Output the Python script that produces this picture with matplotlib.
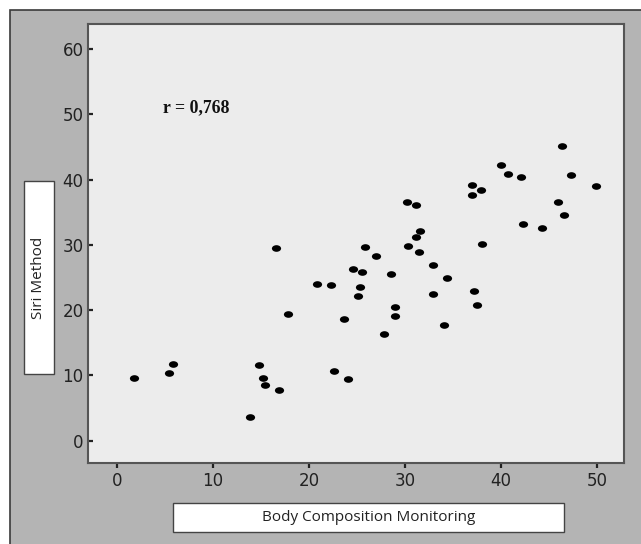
import matplotlib
matplotlib.use("Agg")
import matplotlib.pyplot as plt
from matplotlib.patches import Rectangle
from matplotlib.path import Path
from matplotlib.transforms import Affine2D

# Body Composition Monitoring (x) vs Siri Method (y)
bcm = [1.80, 5.47, 5.83, 14.84, 15.26, 15.43, 13.90, 30.18, 31.11, 31.53,
       31.11, 30.28, 31.43, 16.55, 25.87, 27.01, 24.56, 25.49, 28.54, 32.91,
       34.37, 20.84, 22.27, 25.35, 25.14, 32.95, 28.93, 17.79, 23.62, 28.96,
       27.81, 34.06, 22.64, 24.10, 16.92, 46.31, 40.02, 40.75, 42.10, 47.31,
       49.88, 36.94, 37.88, 36.94, 45.95, 46.51, 42.31, 44.26, 37.98, 37.15,
       37.46]
siri = [9.62, 10.29, 11.76, 11.61, 9.62, 8.55, 3.64, 36.63, 36.17, 32.08,
        31.16, 29.79, 28.91, 29.52, 29.68, 28.30, 26.22, 25.76, 25.60, 26.98,
        24.99, 24.07, 23.77, 23.61, 22.13, 22.43, 20.40, 19.42, 18.65, 19.07,
        16.36, 17.73, 10.69, 9.42, 7.69, 45.21, 42.19, 40.86, 40.40, 40.70,
        39.02, 39.17, 38.41, 37.70, 36.63, 34.64, 33.15, 32.54, 30.14, 22.89,
        20.75]

x_ticks = [0, 10, 20, 30, 40, 50]
y_ticks = [0, 10, 20, 30, 40, 50, 60]
r_text = "r = 0,768"

W, H = 641, 544
fig = plt.figure(figsize=(W / 100, H / 100), dpi=100)
fig.patch.set_facecolor("white")

# grey frame around everything (behind the axes)
fig.patches.append(Rectangle((10 / W, -0.05), 1.1, 1 - 10 / H + 0.05,
                             transform=fig.transFigure, facecolor="#b4b4b4",
                             edgecolor="#3a3a3a", linewidth=1.2, zorder=-5))

ax = fig.add_axes([88.3 / W, 1 - 462.7 / H, (624 - 88.3) / W, (462.7 - 24) / H])
ax.set_facecolor("#ececec")
for s in ax.spines.values():
    s.set_color("#555555")
    s.set_linewidth(1.5)

# slightly flattened dots
ell = Path.unit_circle().transformed(Affine2D().scale(1.0, 0.72))
ax.scatter(bcm, siri, marker=ell, s=44, color="black", linewidths=0, zorder=3)

ax.set_xlim(-2.96, 52.8)
ax.set_ylim(-3.40, 63.85)
ax.set_xticks(x_ticks)
ax.set_yticks(y_ticks)
ax.tick_params(axis="x", direction="out", length=3.6, width=1.6, pad=3,
               labelsize=12, colors="#222222")
ax.tick_params(axis="y", direction="in", length=3.6, width=1.6, pad=3.5,
               labelsize=12, colors="#222222")

ax.text(4.85, 50.36, r_text, family="Liberation Serif", fontweight="bold",
        fontsize=12.8, ha="left", va="baseline", color="#111111")

# label boxes
fig.patches.append(Rectangle((24 / W, 1 - 374 / H), 30 / W, (374 - 180.7) / H,
                             transform=fig.transFigure, facecolor="white",
                             edgecolor="#444444", linewidth=1.0, zorder=1))
fig.text(39 / W, 1 - 277.5 / H, "Siri Method", rotation=90, ha="center",
         va="center", family="Open Sans", fontsize=11, color="#222222")

fig.patches.append(Rectangle((173 / W, 1 - 532 / H), (564 - 173) / W, 29 / H,
                             transform=fig.transFigure, facecolor="white",
                             edgecolor="#444444", linewidth=1.0, zorder=1))
fig.text(368.5 / W, 1 - 517.5 / H, "Body Composition Monitoring", ha="center",
         va="center", family="Open Sans", fontsize=11, color="#222222")

fig.savefig("out.png", dpi=100)
